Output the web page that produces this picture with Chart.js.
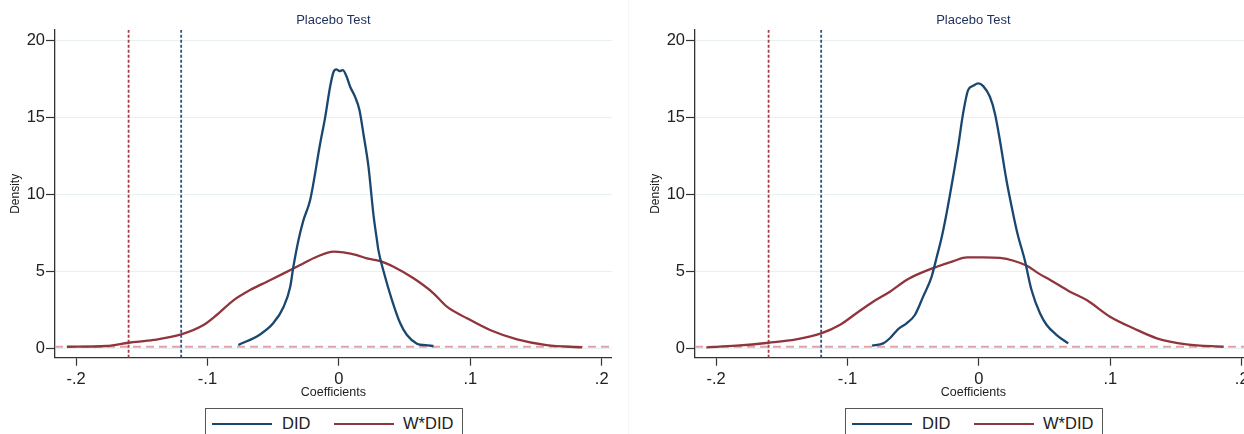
<!DOCTYPE html>
<html>
<head>
<meta charset="utf-8">
<script src="https://cdn.jsdelivr.net/npm/chart.js@4.4.1/dist/chart.umd.min.js"></script>
<style>
    body { margin: 0; width: 1244px; height: 434px; overflow: hidden; background: #fff; position: relative; font-family: 'Liberation Sans', Arial, sans-serif; }
    .panel { position: absolute; top: 0; width: 640px; height: 434px; }
    .panel canvas { position: absolute; left: 0; top: 0; }
    .legend { position: absolute; left: 205px; top: 408px; width: 258px; height: 40px; border: 1px solid #555; box-sizing: border-box; background: #fff; }
    .legend .sw { position: absolute; top: 13.5px; width: 60px; height: 2px; }
    .legend .lb { position: absolute; top: 5px; font-size: 16.5px; line-height: 18px; color: #222; }
    .sep { position: absolute; left: 628px; top: 0; width: 1px; height: 434px; background: #f6f6f6; }
</style>
</head>
<body>
<div class="sep"></div>
<div class="panel" style="left:0px">
    <canvas id="chartLeft" width="640" height="434"></canvas>
    <div class="legend">
        <div class="sw" style="left:6px;background:#1a476f"></div><span class="lb" style="left:76px">DID</span>
        <div class="sw" style="left:128px;background:#90353b"></div><span class="lb" style="left:197px">W*DID</span>
    </div>
</div>
<div class="panel" style="left:640px">
    <canvas id="chartRight" width="640" height="434"></canvas>
    <div class="legend">
        <div class="sw" style="left:6px;background:#1a476f"></div><span class="lb" style="left:76px">DID</span>
        <div class="sw" style="left:128px;background:#90353b"></div><span class="lb" style="left:197px">W*DID</span>
    </div>
</div>
<script>
// Kernel density estimates (coefficient, density)
const leftDidX  = [-0.0765, -0.060, -0.050, -0.042, -0.037, -0.0346, -0.0308, -0.027, -0.0219, -0.0142, -0.0104, -0.0066, -0.004, -0.002, 0.0005, 0.003, 0.006, 0.0086, 0.0124, 0.0157, 0.0187, 0.0225, 0.0264, 0.029, 0.030, 0.034, 0.0404, 0.0467, 0.0518, 0.0594, 0.066, 0.072];
const leftDidY  = [0.21, 0.90, 1.62, 2.70, 4.00, 5.30, 7.00, 8.30, 9.60, 13.3, 15.0, 17.0, 17.94, 18.1, 17.98, 18.05, 17.6, 16.97, 16.3, 15.45, 13.9, 11.8, 8.6, 7.0, 6.4, 5.0, 3.13, 1.62, 0.86, 0.30, 0.20, 0.15];
const leftWdidX = [-0.207, -0.1767, -0.160, -0.141, -0.120, -0.103, -0.093, -0.080, -0.0676, -0.0548, -0.042, -0.0295, -0.0168, -0.004, 0.0035, 0.0137, 0.0213, 0.0315, 0.0416, 0.0568, 0.072, 0.0822, 0.0975, 0.115, 0.1356, 0.158, 0.185];
const leftWdidY = [0.10, 0.15, 0.36, 0.54, 0.90, 1.51, 2.16, 3.13, 3.78, 4.32, 4.86, 5.40, 5.94, 6.27, 6.22, 6.05, 5.83, 5.66, 5.29, 4.54, 3.57, 2.70, 1.95, 1.19, 0.58, 0.21, 0.06];

const rightDidX  = [-0.0813, -0.0728, -0.0677, -0.0614, -0.055, -0.0487, -0.0424, -0.036, -0.032, -0.0282, -0.0246, -0.0196, -0.0158, -0.012, -0.0082, -0.0043, -0.0005, 0.0033, 0.0084, 0.0122, 0.016, 0.021, 0.026, 0.0295, 0.035, 0.040, 0.0465, 0.0516, 0.0592, 0.068];
const rightDidY  = [0.17, 0.32, 0.65, 1.25, 1.62, 2.16, 3.35, 4.64, 5.94, 7.24, 8.75, 11.13, 13.07, 15.24, 16.75, 17.03, 17.19, 17.01, 16.32, 15.24, 13.5, 10.9, 8.75, 7.4, 5.7, 3.8, 2.27, 1.51, 0.86, 0.32];
const rightWdidX = [-0.2074, -0.1845, -0.160, -0.139, -0.120, -0.1059, -0.0932, -0.0805, -0.0677, -0.055, -0.0449, -0.032, -0.0193, -0.0091, 0.0033, 0.016, 0.0264, 0.0366, 0.0454, 0.0543, 0.0693, 0.082, 0.0998, 0.1176, 0.1354, 0.158, 0.1863];
const rightWdidY = [0.06, 0.17, 0.36, 0.58, 0.97, 1.51, 2.27, 3.02, 3.67, 4.43, 4.86, 5.29, 5.66, 5.90, 5.90, 5.86, 5.68, 5.35, 4.86, 4.43, 3.67, 3.13, 2.05, 1.30, 0.65, 0.26, 0.10];

// Reference lines: true estimates (vertical) and baseline (horizontal)
const xLineWdid = -0.16;
const xLineDid = -0.12;
const yLineBase = 0.1;

// Axes
const xTickValues = [-0.2, -0.1, 0, 0.1, 0.2];
const xTickLabels = ['-.2', '-.1', '0', '.1', '.2'];
const yTickValues = [0, 5, 10, 15, 20];
const yTickLabels = ['0', '5', '10', '15', '20'];
const xMin = -0.216, xMax = 0.2076;
const yMin = -0.61, yMax = 20.65;

const FONT = "'Liberation Sans', Arial, sans-serif";
const BLUE = '#1a476f';
const RED = '#90353b';

function zip(xs, ys) {
    return xs.map((x, i) => ({ x: x, y: ys[i] }));
}

function makeChart(id, didX, didY, wdidX, wdidY) {
    const ctx = document.getElementById(id).getContext('2d');
    return new Chart(ctx, {
        type: 'scatter',
        data: {
            datasets: [
                {
                    label: 'DID',
                    data: zip(didX, didY),
                    showLine: true,
                    borderColor: BLUE,
                    borderWidth: 2.3,
                    pointRadius: 0,
                    cubicInterpolationMode: 'monotone'
                },
                {
                    label: 'W*DID',
                    data: zip(wdidX, wdidY),
                    showLine: true,
                    borderColor: RED,
                    borderWidth: 2.3,
                    pointRadius: 0,
                    cubicInterpolationMode: 'monotone'
                },
                {
                    label: 'xline W*DID',
                    data: [{ x: xLineWdid, y: yMin }, { x: xLineWdid, y: yMax }],
                    showLine: true,
                    borderColor: '#a83a44',
                    borderWidth: 1.8,
                    borderDash: [3, 2],
                    pointRadius: 0
                },
                {
                    label: 'xline DID',
                    data: [{ x: xLineDid, y: yMin }, { x: xLineDid, y: yMax }],
                    showLine: true,
                    borderColor: '#2c5282',
                    borderWidth: 1.8,
                    borderDash: [3, 2],
                    pointRadius: 0
                },
                {
                    label: 'yline',
                    data: [{ x: xMin, y: yLineBase }, { x: xMax, y: yLineBase }],
                    showLine: true,
                    borderColor: '#e6a0aa',
                    borderWidth: 1.8,
                    borderDash: [8, 5],
                    pointRadius: 0
                }
            ]
        },
        options: {
            responsive: false,
            animation: false,
            devicePixelRatio: 1,
            layout: { padding: { left: 0, right: 28.3, top: 0, bottom: 0 } },
            plugins: {
                legend: { display: false },
                tooltip: { enabled: false },
                title: {
                    display: true,
                    text: 'Placebo Test',
                    fullSize: false,
                    color: '#1e2f5e',
                    font: { family: FONT, size: 13, weight: 'normal' },
                    padding: { top: 12.5, bottom: 1.9 }
                }
            },
            scales: {
                x: {
                    type: 'linear',
                    min: xMin,
                    max: xMax,
                    afterFit: s => { s.height = 76.3; },
                    afterBuildTicks: s => { s.ticks = xTickValues.map(v => ({ value: v })); },
                    grid: { drawOnChartArea: false, tickLength: 8, tickColor: '#333', tickWidth: 1.2 },
                    border: { color: '#333', width: 1.3 },
                    ticks: {
                        color: '#222',
                        padding: 4,
                        maxRotation: 0,
                        font: { family: FONT, size: 16.5 },
                        callback: (v, i) => xTickLabels[i]
                    },
                    title: {
                        display: true,
                        text: 'Coefficients',
                        color: '#222',
                        font: { family: FONT, size: 12.5 },
                        padding: { top: 0, bottom: 33.5 }
                    }
                },
                y: {
                    type: 'linear',
                    min: yMin,
                    max: yMax,
                    afterFit: s => { s.width = 55; },
                    afterBuildTicks: s => { s.ticks = yTickValues.map(v => ({ value: v })); },
                    grid: { color: '#e8f0f2', lineWidth: 1, tickLength: 9, tickColor: '#333', tickWidth: 1.2 },
                    border: { color: '#333', width: 1.3 },
                    ticks: {
                        color: '#222',
                        padding: 1,
                        font: { family: FONT, size: 16.5 },
                        callback: (v, i) => yTickLabels[i]
                    },
                    title: {
                        display: true,
                        text: 'Density',
                        color: '#222',
                        font: { family: FONT, size: 12 },
                        padding: { top: 8, bottom: 0 }
                    }
                }
            }
        }
    });
}

makeChart('chartLeft', leftDidX, leftDidY, leftWdidX, leftWdidY);
makeChart('chartRight', rightDidX, rightDidY, rightWdidX, rightWdidY);
</script>
</body>
</html>
